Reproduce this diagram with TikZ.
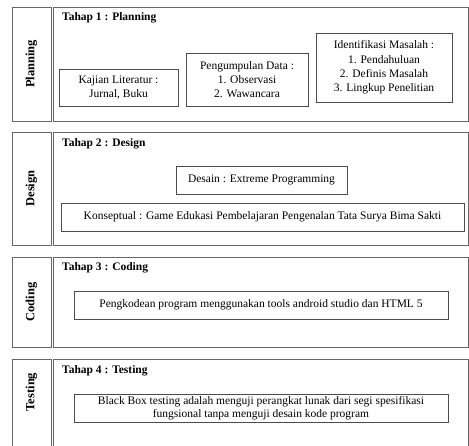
\documentclass[tikz,border=0pt]{standalone}
\usepackage{fontspec}
\setmainfont{Liberation Serif}
\tikzstyle{side}=[rectangle,draw=black!60,line width=0.9pt,minimum width=39pt,inner sep=0pt]
\tikzstyle{stage}=[rectangle,draw=black!60,line width=0.9pt,minimum width=415pt,inner sep=0pt]
\tikzstyle{task}=[rectangle,draw=black!70,line width=0.8pt,align=center,inner sep=0pt,
font=\fontsize{11.5}{14.3}\selectfont]
\tikzstyle{title}=[anchor=west,inner sep=0pt,font=\fontsize{11.5}{13}\selectfont\bfseries]
\tikzstyle{phase}=[rotate=90,inner sep=0pt,font=\fontsize{12.5}{14}\selectfont\bfseries]
\usetikzlibrary{positioning}

\begin{document}
\begin{tikzpicture}[x=1pt,y=-1pt]
            \useasboundingbox (0,0) rectangle (469,446);

            % Planning PART

            \node[side, minimum height=114pt] (s1) at (31.5,64) {};
            \node[stage,minimum height=114pt] (f1) at (260.5,64) {};
            \node[phase] (l1) at (s1.center) {Planning};
            \node[title] (t1) at (62,18) {Tahap 1 : Planning};

            \node[task,minimum width=119pt,minimum height=37pt] (k1) at (118.5,87.5) {Kajian Literatur :\\Jurnal, Buku};
            \node[task,minimum width=122pt,minimum height=53pt] (k2) at (247,79.5) {Pengumpulan Data :\\1. Observasi\\2. Wawancara};
            \node[task,minimum width=136pt,minimum height=69pt] (k3) at (384,67.5) {Identifikasi Masalah :\\1. Pendahuluan\\2. Definis Masalah\\3. Lingkup Penelitian};

            % Design PART

            \node[side, minimum height=113pt] (s2) at (31.5,188.5) {};
            \node[stage,minimum height=113pt] (f2) at (260.5,188.5) {};
            \node[phase] (l2) at (s2.center) {Design};
            \node[title] (t2) at (62,144) {Tahap 2 : Design};

            \node[task,minimum width=171pt,minimum height=28pt] (k4) at (261.5,180) {Desain : Extreme Programming};
            \node[task,minimum width=403pt,minimum height=28pt] (k5) at (262.5,217) {Konseptual : Game Edukasi Pembelajaran Pengenalan Tata Surya Bima Sakti};

            % Coding PART

            \node[side, minimum height=90pt] (s3) at (31.5,302) {};
            \node[stage,minimum height=90pt] (f3) at (260.5,302) {};
            \node[phase] (l3) at (s3.center) {Coding};
            \node[title] (t3) at (62,268) {Tahap 3 : Coding};

            \node[task,minimum width=374pt,minimum height=28pt] (k6) at (261,305) {Pengkodean program menggunakan tools android studio dan HTML 5};

            % Testing PART

            \node[side, minimum height=93pt] (s4) at (31.5,405.5) {};
            \node[stage,minimum height=93pt] (f4) at (260.5,405.5) {};
            \node[phase] (l4) at (31.5,392) {Testing};
            \node[title] (t4) at (62,371) {Tahap 4 : Testing};

            \node[task,minimum width=374pt,minimum height=28pt,font=\fontsize{11.5}{12.5}\selectfont] (k7) at (261,408) {Black Box testing adalah menguji perangkat lunak dari segi spesifikasi\\fungsional tanpa menguji desain kode program};

\end{tikzpicture}
\end{document}
